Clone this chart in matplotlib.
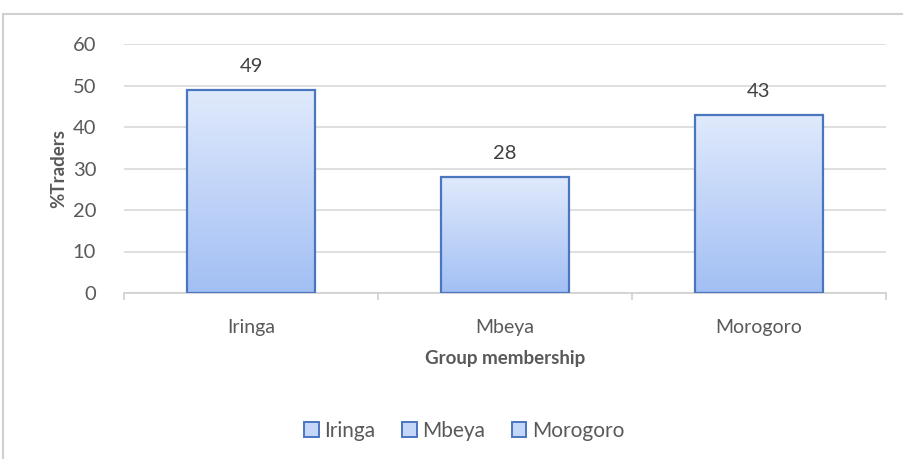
import matplotlib.pyplot as plt
import numpy as np
from matplotlib.patches import Rectangle
from matplotlib.colors import LinearSegmentedColormap

regions = ["Iringa", "Mbeya", "Morogoro"]
traders_pct = [49, 28, 43]

plt.rcParams['font.family'] = ['Lato', 'DejaVu Sans']

fig = plt.figure(figsize=(9.04, 4.59), dpi=100)
# left=124, right=886, bottom y=293, top y=44 (pixels)
ax = fig.add_axes([124 / 904, 1 - 293 / 459, (886 - 124) / 904, (293 - 44) / 459])

# outer chart border
fig.patches.append(Rectangle((3 / 904, -0.01), 1.0, 1 - 14 / 459 + 0.01, transform=fig.transFigure,
                             fill=False, edgecolor='#d0d0d0', linewidth=1.5))

grad = LinearSegmentedColormap.from_list('bar', ['#a2bff4', '#e0eafc'])
x = np.arange(len(regions))
bars = ax.bar(x, traders_pct, width=0.505, color='none', edgecolor='#4a76c0', linewidth=1.6, zorder=3)
for b in bars:
    x0, y0 = b.get_x(), b.get_y()
    w, h = b.get_width(), b.get_height()
    img = ax.imshow(np.linspace(0, 1, 256).reshape(-1, 1), cmap=grad, origin='lower',
                    extent=[x0, x0 + w, y0, y0 + h], aspect='auto', zorder=2)
    img.set_clip_path(b)
    ax.text(x0 + w / 2, h + 3.6, str(int(h)), ha='center', va='bottom', fontsize=14.5, color='#404040')

ax.set_xlim(-0.5, 2.5)
ax.set_ylim(0, 60)
ax.set_yticks(range(0, 61, 10))
ax.grid(axis='y', color='#d9d9d9', linewidth=1.2, zorder=0)
ax.set_axisbelow(True)
for s in ['top', 'right', 'left']:
    ax.spines[s].set_visible(False)
ax.spines['bottom'].set_color('#d0d0d0')
ax.spines['bottom'].set_linewidth(1.2)

ax.set_xticks([-0.5, 0.5, 1.5, 2.5])
ax.set_xticklabels([])
ax.tick_params(axis='x', length=5, color='#d0d0d0', width=1.2)
ax.set_xticks(x, minor=True)
ax.set_xticklabels(regions, minor=True)
ax.tick_params(axis='x', which='minor', length=0, pad=19, labelsize=14, labelcolor='#595959')
ax.tick_params(axis='y', length=0, pad=20, labelsize=14.5, labelcolor='#595959')

ax.set_xlabel('Group membership', fontsize=13.5, fontweight='bold', color='#595959', labelpad=10)
ax.set_ylabel('%Traders', fontsize=13.5, fontweight='bold', color='#595959', labelpad=4)

handles = [Rectangle((0, 0), 1, 1, facecolor='#c5d7f8', edgecolor='#4a76c0', linewidth=1.4) for _ in regions]
fig.legend(handles, regions, loc='center', bbox_to_anchor=(464 / 904, 1 - 431 / 459), ncol=3,
           frameon=False, fontsize=15, labelcolor='#595959', handlelength=0.7, handleheight=0.7,
           handletextpad=0.25, columnspacing=1.3)

fig.savefig('out.png', dpi=100)
